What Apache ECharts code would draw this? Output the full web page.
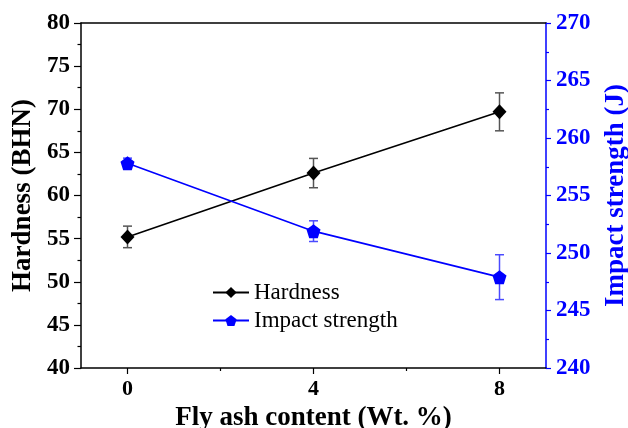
<!DOCTYPE html>
<html>
<head>
<meta charset="utf-8">
<script src="https://cdn.jsdelivr.net/npm/echarts@6/dist/echarts.min.js"></script>
<style>html,body{margin:0;padding:0;background:#fff}#c{width:628px;height:428px}</style>
</head>
<body>
<div id="c"></div>
<script>
var flyAsh = [0, 4, 8];
var hardness = [55.2, 62.6, 69.7];
var hardnessErr = [1.25, 1.7, 2.2];
var impact = [257.8, 251.9, 247.9];
var impactErr = [0.45, 0.9, 1.95];
var xLabelTicks = [0, 4, 8];
var xMinorTicks = [2, 6];

var FONT = "'Liberation Serif', 'Times New Roman', serif";
var BLUE = '#0000ff';
var pentagon = 'path://M0,-1 L0.951,-0.309 L0.588,0.809 L-0.588,0.809 L-0.951,-0.309 Z';

function errData(xs, vs, es) {
  return xs.map(function (x, i) { return [x, vs[i] - es[i], vs[i] + es[i]]; });
}
function errRender(color) {
  return function (params, api) {
    var x = api.value(0);
    var lo = api.coord([x, api.value(1)]);
    var hi = api.coord([x, api.value(2)]);
    var w = 4.5;
    var st = { stroke: color, lineWidth: 1.5 };
    return {
      type: 'group',
      children: [
        { type: 'line', shape: { x1: lo[0], y1: lo[1], x2: hi[0], y2: hi[1] }, style: st },
        { type: 'line', shape: { x1: lo[0] - w, y1: lo[1], x2: lo[0] + w, y2: lo[1] }, style: st },
        { type: 'line', shape: { x1: hi[0] - w, y1: hi[1], x2: hi[0] + w, y2: hi[1] }, style: st }
      ]
    };
  };
}

var chart = echarts.init(document.getElementById('c'), null, { renderer: 'canvas' });
chart.setOption({
  animation: false,
  backgroundColor: '#fff',
  textStyle: { fontFamily: FONT },
  grid: { left: 81, right: 82, top: 23, bottom: 60, containLabel: false, outerBoundsMode: 'none' },
  legend: {
    left: 207, top: 276, orient: 'vertical',
    itemWidth: 36, itemHeight: 14, itemGap: 5,
    textStyle: { fontFamily: FONT, fontSize: 23, color: '#000' },
    data: ['Hardness', 'Impact strength']
  },
  xAxis: [
    {
      type: 'value', min: -1, max: 9, position: 'bottom',
      name: 'Fly ash content (Wt. %)', nameLocation: 'middle', nameGap: 33,
      nameTextStyle: { fontFamily: FONT, fontSize: 27, fontWeight: 'bold', color: '#000' },
      axisLine: { show: true, onZero: false, lineStyle: { color: '#000', width: 1.5 } },
      axisTick: { show: true, length: 6, inside: false, customValues: xLabelTicks, lineStyle: { color: '#000', width: 1.2 } },
      axisLabel: { customValues: xLabelTicks, margin: 10, fontFamily: FONT, fontSize: 22, fontWeight: 'bold', color: '#000' },
      splitLine: { show: false }
    },
    {
      type: 'value', min: -1, max: 9, position: 'bottom',
      axisLine: { show: false, onZero: false },
      axisTick: { show: true, length: 3, customValues: xMinorTicks, lineStyle: { color: '#000', width: 1.2 } },
      axisLabel: { show: false },
      splitLine: { show: false }
    },
    {
      type: 'value', min: -1, max: 9, position: 'top',
      axisLine: { show: true, onZero: false, lineStyle: { color: '#000', width: 1.5 } },
      axisTick: { show: false },
      axisLabel: { show: false },
      splitLine: { show: false }
    }
  ],
  yAxis: [
    {
      type: 'value', min: 40, max: 80, interval: 5, position: 'left',
      name: 'Hardness (BHN)', nameLocation: 'middle', nameGap: 43,
      nameTextStyle: { fontFamily: FONT, fontSize: 27, fontWeight: 'bold', color: '#000' },
      axisLine: { show: true, onZero: false, lineStyle: { color: '#000', width: 1.5 } },
      axisTick: { show: true, length: 7, lineStyle: { color: '#000', width: 1.2 } },
      minorTick: { show: true, splitNumber: 2, length: 3.5, lineStyle: { color: '#000', width: 1.2 } },
      axisLabel: { margin: 11, fontFamily: FONT, fontSize: 23, fontWeight: 'bold', color: '#000' },
      splitLine: { show: false }
    },
    {
      type: 'value', min: 240, max: 270, interval: 5, position: 'right',
      name: 'Impact strength (J)', nameLocation: 'middle', nameGap: 57,
      nameTextStyle: { fontFamily: FONT, fontSize: 27, fontWeight: 'bold', color: BLUE },
      axisLine: { show: true, onZero: false, lineStyle: { color: BLUE, width: 1.5 } },
      axisTick: { show: true, length: 5, lineStyle: { color: BLUE, width: 1.2 } },
      minorTick: { show: true, splitNumber: 2, length: 3, lineStyle: { color: BLUE, width: 1.2 } },
      axisLabel: { margin: 10, fontFamily: FONT, fontSize: 23, fontWeight: 'bold', color: BLUE },
      splitLine: { show: false }
    }
  ],
  series: [
    {
      type: 'custom', name: 'hErr', xAxisIndex: 0, yAxisIndex: 0, z: 1,
      renderItem: errRender('#555555'), data: errData(flyAsh, hardness, hardnessErr),
      silent: true
    },
    {
      type: 'custom', name: 'iErr', xAxisIndex: 0, yAxisIndex: 1, z: 1,
      renderItem: errRender('#4a4aff'), data: errData(flyAsh, impact, impactErr),
      silent: true
    },
    {
      type: 'line', name: 'Hardness', xAxisIndex: 0, yAxisIndex: 0, z: 3,
      data: flyAsh.map(function (x, i) { return [x, hardness[i]]; }),
      symbol: 'diamond', symbolSize: [14, 15],
      itemStyle: { color: '#000' },
      lineStyle: { color: '#000', width: 1.6 }
    },
    {
      type: 'line', name: 'Impact strength', xAxisIndex: 0, yAxisIndex: 1, z: 3,
      data: flyAsh.map(function (x, i) { return [x, impact[i]]; }),
      symbol: pentagon, symbolSize: 14,
      itemStyle: { color: BLUE },
      lineStyle: { color: BLUE, width: 1.6 }
    }
  ]
});
</script>
</body>
</html>
